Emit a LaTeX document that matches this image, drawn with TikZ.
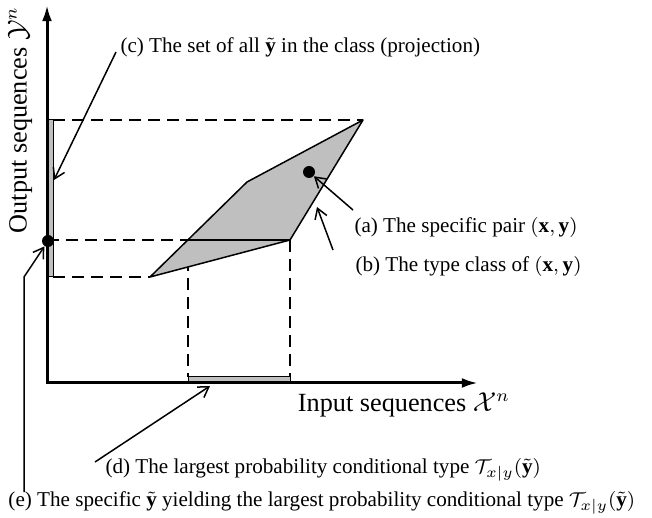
\documentclass[tikz,border=0pt]{standalone}
\usepackage{amsmath}
\usepackage{fontspec}
\setmainfont{Liberation Serif}
\usetikzlibrary{arrows.meta, positioning}
\tikzset{
  axisline/.style={line width=1.2pt, {Latex[length=6.5pt,width=4pt]}-{Latex[length=6.5pt,width=4pt]}},
  guide/.style={dash pattern=on 4.8pt off 2.8pt, line width=0.6pt},
  typeclass/.style={fill=gray!50, draw=black, line width=0.6pt, line join=round},
  projbar/.style={fill=gray!50, draw=black, line width=0.4pt},
  callout/.style={-{Straight Barb[length=4pt,width=5pt]}, line width=0.6pt},
  lbl/.style={font=\fontsize{8.45}{10}\selectfont, anchor=west, inner sep=0pt},
  axlbl/.style={font=\fontsize{10.5}{13}\selectfont, inner sep=0pt},
  bigdot/.style={circle, fill=black, inner sep=0pt, minimum size=4.8pt},
}
\begin{document}
\begin{tikzpicture}[x=0.4pt, y=-0.4pt]
  \useasboundingbox (0,0) rectangle (652,518);
  % axes
  \coordinate (ytop) at (47,5);
  \coordinate (orig) at (47,383);
  \coordinate (xend) at (478,383);
  % type class
  \coordinate (p1) at (150,277);
  \coordinate (p2) at (247,182);
  \coordinate (p3) at (363,120);
  \coordinate (p4) at (290,240);
  \coordinate (q1) at (188,240);
  % projections
  \draw[guide] (53,120) -- (p3);
  \draw[guide] (53,277) -- (p1);
  \draw[guide] (47,240) -- (q1);
  \draw[guide] (q1) -- (188,377);
  \draw[guide] (p4) -- (290,377);
  \filldraw[typeclass] (p1) -- (p2) -- (p3) -- (p4) -- cycle;
  \draw[line width=0.6pt] (q1) -- (p4);
  \draw[projbar] (47,120) rectangle (53,277);
  \draw[projbar] (188,377) rectangle (290,383);
  \draw[axisline] (ytop) -- (orig) -- (xend);
  \node[bigdot] (dota) at (309,172) {};
  \node[bigdot] (dote) at (48,241) {};
  % axis labels
  \node[axlbl, rotate=90] (ylab) at (20,120) {Output sequences $\mathcal{Y}^n$};
  \node[axlbl] (xlab) at (404,405) {Input sequences $\mathcal{X}^n$};
  % callouts
  \node[lbl] (la) at (354,228) {(a) The specific pair $(\mathbf{x},\mathbf{y})$};
  \node[lbl] (lb) at (355,267) {(b) The type class of $(\mathbf{x},\mathbf{y})$};
  \node[lbl] (lc) at (120,47) {(c) The set of all $\tilde{\mathbf{y}}$ in the class (projection)};
  \node[lbl] (ld) at (105,470) {(d) The largest probability conditional type $\mathcal{T}_{x|y}(\tilde{\mathbf{y}})$};
  \node[lbl] (le) at (8,503) {(e) The specific $\tilde{\mathbf{y}}$ yielding the largest probability conditional type $\mathcal{T}_{x|y}(\tilde{\mathbf{y}})$};
  \coordinate (ta) at (353,210);
  \coordinate (tb) at (333,250);
  \coordinate (hb) at (317,207);
  \coordinate (tc) at (116,52);
  \coordinate (hc) at (54,180);
  \coordinate (td) at (95,462);
  \coordinate (hd) at (210,386);
  \coordinate (te) at (24,492);
  \coordinate (ke) at (24,277);
  \draw[callout] (ta) -- (dota);
  \draw[callout] (tb) -- (hb);
  \draw[callout] (tc) -- (hc);
  \draw[callout] (td) -- (hd);
  \draw[callout] (te) -- (ke) -- (dote);
\end{tikzpicture}
\end{document}
